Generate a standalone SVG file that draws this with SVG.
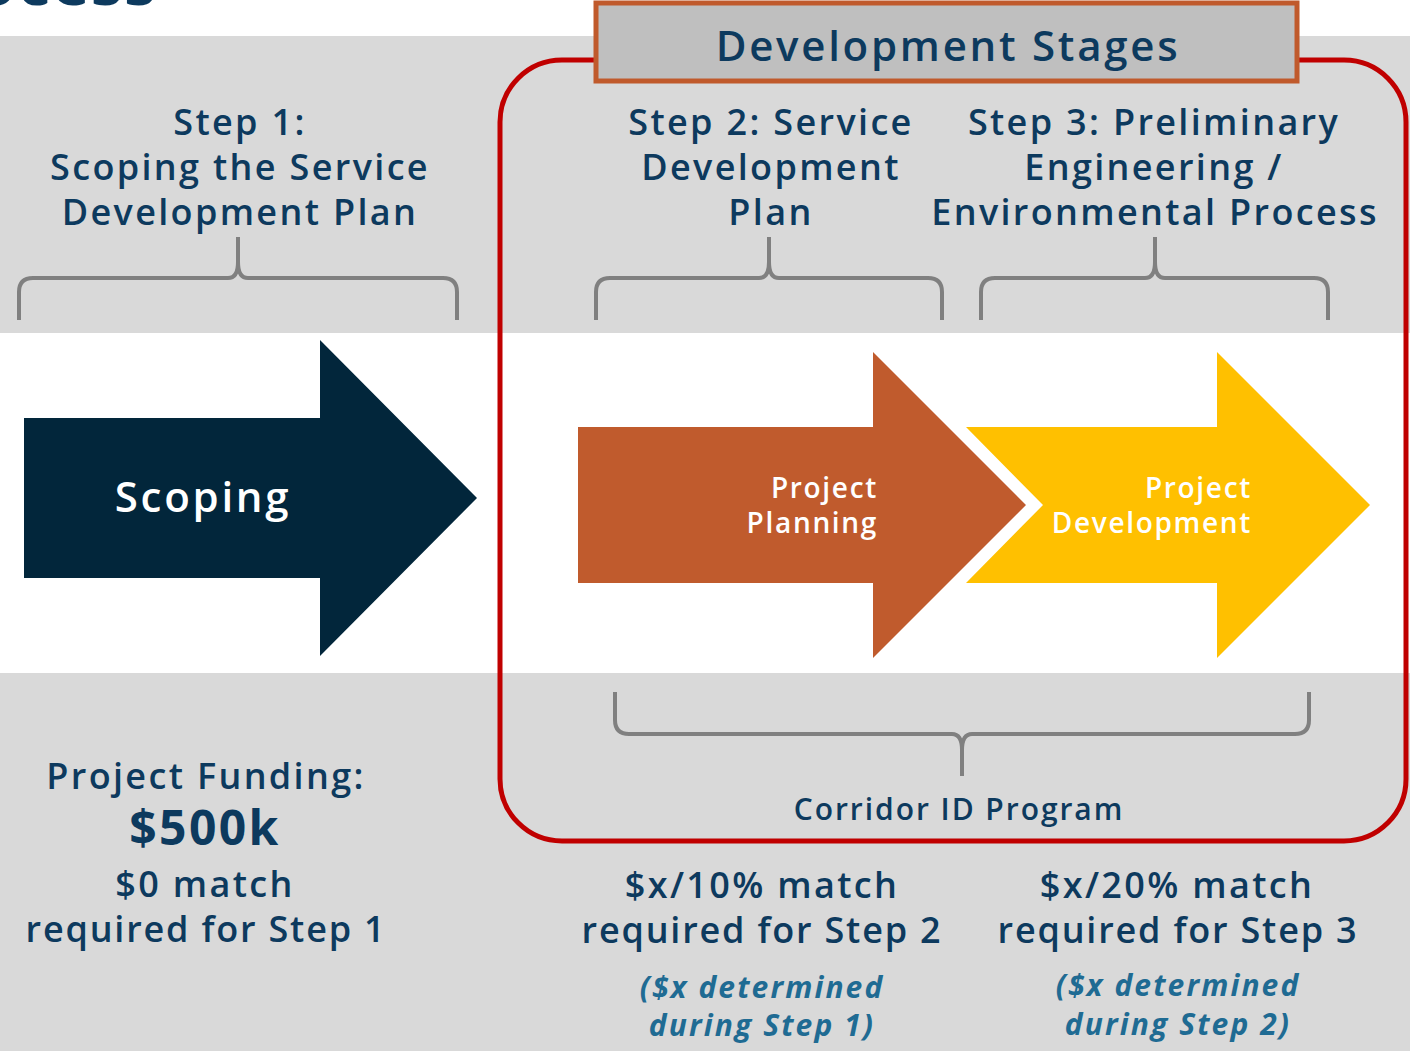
<svg xmlns="http://www.w3.org/2000/svg" width="1410" height="1051" viewBox="0 0 1410 1051">
<style>
.t{font-family:"Open Sans","Noto Sans","DejaVu Sans",sans-serif;font-weight:600;fill:#0d3a5e;text-anchor:middle;letter-spacing:0.065em}
.h{font-size:36px}
.w{fill:#ffffff}
.it{font-style:italic;font-weight:700;fill:#1f6b93;font-size:30px;letter-spacing:0.07em}
.br{fill:none;stroke:#808080;stroke-width:4;stroke-linecap:butt}
</style>
<rect x="0" y="0" width="1410" height="1051" fill="#ffffff"/>
<rect x="0" y="36" width="1410" height="297" fill="#d9d9d9"/>
<rect x="0" y="673" width="1410" height="378" fill="#d9d9d9"/>
<text class="t" x="157" y="5" style="font-size:64px;font-weight:700;text-anchor:end;letter-spacing:0.02em">Process</text>

<g id="connectors">
<path class="br" d="M19,320 L19,292 Q19,278 33,278 L228,278 Q238,278 238,262 L238,237 M238,262 Q238,278 248,278 L443,278 Q457,278 457,292 L457,320"/>
<path class="br" d="M596,320 L596,292 Q596,278 610,278 L759,278 Q769,278 769,262 L769,237 M769,262 Q769,278 779,278 L928,278 Q942,278 942,292 L942,320"/>
<path class="br" d="M981,320 L981,292 Q981,278 995,278 L1145,278 Q1155,278 1155,262 L1155,237 M1155,262 Q1155,278 1165,278 L1314,278 Q1328,278 1328,292 L1328,320"/>
<path class="br" d="M615,692 L615,720 Q615,734 629,734 L952,734 Q962,734 962,750 L962,776 M962,750 Q962,734 972,734 L1295,734 Q1309,734 1309,720 L1309,692"/>
</g>

<g id="dev-frame">
<rect x="500" y="60" width="906" height="781" rx="62" ry="62" fill="none" stroke="#c00000" stroke-width="5"/>
</g>
<g id="dev-stages">
<rect x="596" y="3" width="701" height="78" fill="#bfbfbf" stroke="#c05a2c" stroke-width="5"/>
<text class="t" x="948" y="61" style="font-size:42px">Development Stages</text>
</g>

<g id="step1">
<text class="t h" x="240" y="135">Step 1:</text>
<text class="t h" x="240" y="180">Scoping the Service</text>
<text class="t h" x="240" y="225">Development Plan</text>
</g>
<g id="step2">
<text class="t h" x="771" y="135">Step 2: Service</text>
<text class="t h" x="771" y="180">Development</text>
<text class="t h" x="771" y="225">Plan</text>
</g>
<g id="step3">
<text class="t h" x="1154" y="135">Step 3: Preliminary</text>
<text class="t h" x="1154" y="180">Engineering /</text>
<text class="t h" x="1155" y="225">Environmental Process</text>
</g>

<g id="scoping">
<polygon points="24,418 320,418 320,340 477,498 320,656 320,578 24,578" fill="#02263b"/>
<text class="t w" x="203" y="512" style="font-size:42px">Scoping</text>
</g>
<g id="project-planning">
<polygon points="578,427 873,427 873,352 1026,505 873,658 873,583 578,583" fill="#c05b2d"/>
<text class="t w" x="878" y="498" style="font-size:28px;text-anchor:end;letter-spacing:0.06em">Project</text>
<text class="t w" x="878" y="533" style="font-size:28px;text-anchor:end;letter-spacing:0.06em">Planning</text>
</g>
<g id="project-development">
<polygon points="966,427 1217,427 1217,352 1370,505 1217,658 1217,583 966,583 1043,505" fill="#ffc000"/>
<text class="t w" x="1252" y="498" style="font-size:28px;text-anchor:end;letter-spacing:0.06em">Project</text>
<text class="t w" x="1252" y="533" style="font-size:28px;text-anchor:end;letter-spacing:0.06em">Development</text>
</g>

<g id="corridor">
<text class="t" x="959" y="820" style="font-size:30px">Corridor ID Program</text>
</g>

<g id="funding1">
<text class="t h" x="206" y="789">Project Funding:</text>
<text class="t" x="205" y="845" style="font-size:48px;font-weight:700;letter-spacing:0.05em">$500k</text>
<text class="t h" x="205" y="897">$0 match</text>
<text class="t h" x="206" y="942" style="letter-spacing:0.05em">required for Step 1</text>
</g>
<g id="funding2">
<text class="t h" x="762" y="898">$x/10% match</text>
<text class="t h" x="762" y="943" style="letter-spacing:0.05em">required for Step 2</text>
<text class="t it" x="762" y="998">($x determined</text>
<text class="t it" x="762" y="1036">during Step 1)</text>
</g>
<g id="funding3">
<text class="t h" x="1177" y="898">$x/20% match</text>
<text class="t h" x="1178" y="943" style="letter-spacing:0.05em">required for Step 3</text>
<text class="t it" x="1178" y="996">($x determined</text>
<text class="t it" x="1178" y="1035">during Step 2)</text>
</g>
</svg>
